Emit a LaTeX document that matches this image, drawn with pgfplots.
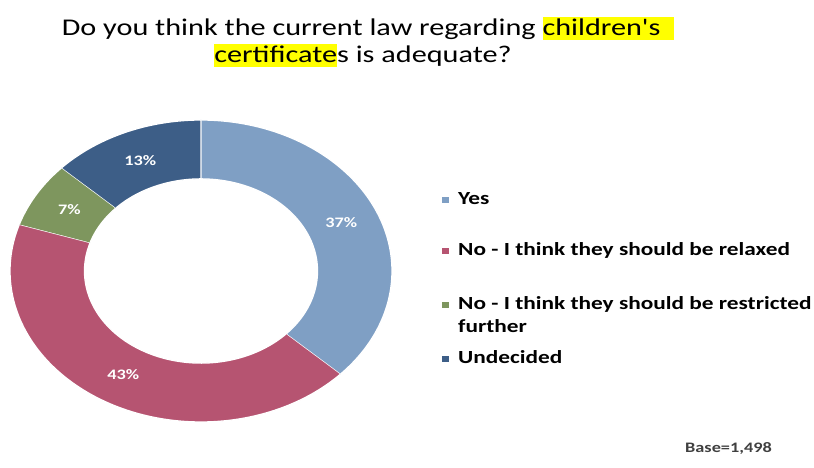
\documentclass[border=0pt]{standalone}
\usepackage{pgfplots}
\pgfplotsset{compat=1.18}
\usepackage{fontspec}
\setmainfont{Carlito}[Ligatures=TeXOff]
\definecolor{cYes}{RGB}{127,159,196}
\definecolor{cNo}{RGB}{182,84,113}
\definecolor{cRes}{RGB}{126,150,94}
\definecolor{cUnd}{RGB}{61,94,135}
\definecolor{hlY}{RGB}{255,255,0}
\newcommand\hl[1]{{\setlength{\fboxsep}{0pt}\colorbox{hlY}{\rule[-0.17em]{0pt}{0.96em}#1}}}
\newcommand\sx[1]{\scalebox{1.26}[1]{#1}}
% slice: start (cumulative %), value (%), colour
\newcommand\slice[3]{%
  \addplot[fill=#3, draw=white, line width=1.3pt, domain=0:3, samples=361, variable=\t]
    ({rr(\t)*cos(aa(\t,#1,#2))},{rr(\t)*sin(aa(\t,#1,#2))});
}
\begin{document}
\begin{tikzpicture}[x=1pt,y=1pt]
\path[use as bounding box] (0,0) rectangle (814,468);
\begin{axis}[
  at={(10pt,46pt)}, anchor=south west,
  scale only axis, width=382pt, height=302pt,
  xmin=-1, xmax=1, ymin=-1, ymax=1,
  axis lines=none, clip=false,
  declare function={
    rr(\t)=(\t<=1)*1 + (\t>1)*(\t<2)*(1+(0.61-1)*(\t-1)) + (\t>=2)*0.61;
    aa(\t,\s,\v)=(\t<=1)*(90-3.6*(\s+\v*\t)) + (\t>1)*(\t<2)*(90-3.6*(\s+\v)) + (\t>=2)*(90-3.6*(\s+\v*(3-\t)));
  },
]
% Yes 37, No-relaxed 43, No-restricted 7, Undecided 13
\slice{0}{37}{cYes}
\slice{37}{43}{cNo}
\slice{80}{7}{cRes}
\slice{87}{13}{cUnd}
\begin{scope}[every node/.style={font=\fontsize{14.5}{16}\selectfont\bfseries, text=white}]
\node at (axis cs:{0.8*cos(90-3.6*18.5)},{0.8*sin(90-3.6*18.5)}) {\sx{37\%}};
\node at (axis cs:{0.8*cos(90-3.6*58.5)},{0.8*sin(90-3.6*58.5)}) {\sx{43\%}};
\node at (axis cs:{0.8*cos(90-3.6*83.5)},{0.8*sin(90-3.6*83.5)}) {\sx{7\%}};
\node at (axis cs:{0.8*cos(90-3.6*93.5)},{0.8*sin(90-3.6*93.5)}) {\sx{13\%}};
\end{scope}
\end{axis}
% title
\node[anchor=base, font=\fontsize{24}{29}\selectfont, inner sep=0] at (368,432)
  {\sx{Do you think the current law regarding \hl{children's\hspace{0.45em}}}};
\node[anchor=base, font=\fontsize{24}{29}\selectfont, inner sep=0] at (363,405)
  {\sx{\hl{certificate}s is adequate?}};
% legend
\begin{scope}[every node/.style={anchor=base west, inner sep=0, font=\fontsize{18.5}{22}\selectfont\bfseries}]
\fill[cYes] (442,265) rectangle (449,271);
\node at (458,263) {\sx{Yes}};
\fill[cNo] (442,214) rectangle (449,220);
\node at (458,212) {\sx{No - I think they should be relaxed}};
\fill[cRes] (442,160) rectangle (449,166);
\node at (458,158) {\sx{No - I think they should be restricted}};
\node at (458,135) {\sx{further}};
\fill[cUnd] (442,106) rectangle (449,112);
\node at (458,104) {\sx{Undecided}};
\end{scope}
\node[anchor=base west, inner sep=0, font=\fontsize{14.5}{16}\selectfont\bfseries, text=black!75] at (685,15) {\sx{Base=1,498}};
\end{tikzpicture}
\end{document}
